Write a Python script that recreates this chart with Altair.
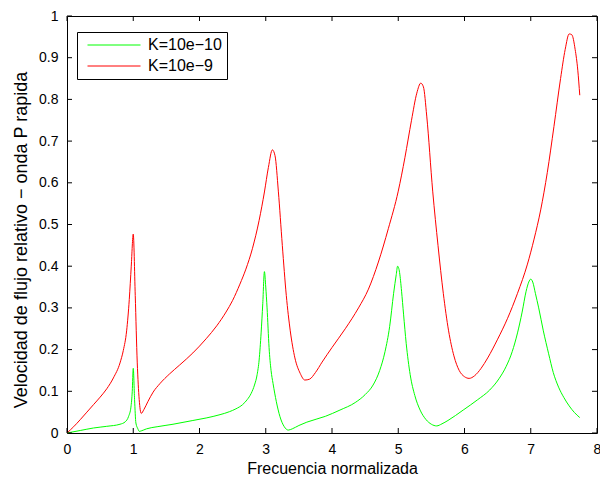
import altair as alt
import pandas as pd

# Relative flow velocity (fast P wave) versus normalized frequency
label_green = "K=10e−10"
label_red = "K=10e−9"
x_title = "Frecuencia normalizada"
y_title = "Velocidad de flujo relativo − onda P rapida"

red_f = [0.00, 0.10, 0.20, 0.30, 0.40, 0.50, 0.60, 0.70, 0.80, 0.85, 0.90, 0.94,
         0.97, 1.00, 1.03, 1.06, 1.09, 1.12, 1.16, 1.22, 1.30, 1.40, 1.55, 1.70,
         1.90, 2.10, 2.26, 2.40, 2.50, 2.61, 2.70, 2.80, 2.90, 2.98, 3.04, 3.10,
         3.14, 3.19, 3.25, 3.31, 3.37, 3.44, 3.52, 3.59, 3.66, 3.75, 3.85, 4.00,
         4.20, 4.40, 4.55, 4.70, 4.85, 5.00, 5.10, 5.20, 5.28, 5.34, 5.38, 5.43,
         5.52, 5.60, 5.68, 5.76, 5.84, 5.92, 6.00, 6.07, 6.15, 6.25, 6.35, 6.50,
         6.65, 6.80, 6.95, 7.05, 7.15, 7.25, 7.35, 7.45, 7.52, 7.58, 7.62, 7.67,
         7.71, 7.74]
red_v = [0.000, 0.015, 0.032, 0.050, 0.068, 0.086, 0.106, 0.132, 0.168, 0.198, 0.245, 0.320,
         0.400, 0.477, 0.330, 0.170, 0.080, 0.047, 0.056, 0.075, 0.098, 0.118, 0.142, 0.163,
         0.192, 0.226, 0.257, 0.290, 0.318, 0.357, 0.393, 0.443, 0.510, 0.578, 0.637, 0.679,
         0.665, 0.580, 0.450, 0.330, 0.245, 0.180, 0.143, 0.127, 0.129, 0.145, 0.170, 0.205,
         0.250, 0.300, 0.345, 0.410, 0.490, 0.580, 0.660, 0.750, 0.815, 0.839, 0.830, 0.760,
         0.580, 0.450, 0.335, 0.245, 0.185, 0.150, 0.135, 0.131, 0.137, 0.155, 0.180, 0.225,
         0.275, 0.335, 0.405, 0.465, 0.535, 0.625, 0.735, 0.850, 0.920, 0.957, 0.955, 0.920,
         0.870, 0.810]

green_f = [0.00, 0.20, 0.40, 0.60, 0.80, 0.88, 0.93, 0.965, 0.985, 1.00, 1.02, 1.04,
           1.07, 1.09, 1.12, 1.20, 1.36, 1.60, 1.90, 2.10, 2.31, 2.45, 2.55, 2.65,
           2.72, 2.78, 2.83, 2.87, 2.90, 2.93, 2.955, 2.98, 3.00, 3.02, 3.05, 3.08,
           3.11, 3.16, 3.215, 3.28, 3.34, 3.40, 3.50, 3.62, 3.90, 4.12, 4.35, 4.50,
           4.62, 4.72, 4.80, 4.87, 4.93, 4.97, 4.99, 5.02, 5.05, 5.08, 5.12, 5.18,
           5.25, 5.33, 5.42, 5.50, 5.58, 5.66, 5.75, 5.98, 6.20, 6.38, 6.52, 6.63,
           6.72, 6.80, 6.87, 6.93, 6.97, 7.00, 7.03, 7.07, 7.12, 7.19, 7.27, 7.34,
           7.42, 7.50, 7.58, 7.66, 7.74]
green_v = [0.000, 0.006, 0.012, 0.016, 0.021, 0.027, 0.040, 0.062, 0.100, 0.155, 0.080, 0.024,
           0.010, 0.004, 0.005, 0.010, 0.015, 0.021, 0.030, 0.036, 0.044, 0.051, 0.058, 0.068,
           0.080, 0.095, 0.115, 0.140, 0.175, 0.240, 0.310, 0.387, 0.350, 0.300, 0.205, 0.150,
           0.119, 0.075, 0.039, 0.015, 0.007, 0.010, 0.018, 0.026, 0.040, 0.055, 0.073, 0.092,
           0.115, 0.150, 0.195, 0.255, 0.335, 0.380, 0.400, 0.385, 0.340, 0.285, 0.215, 0.140,
           0.090, 0.055, 0.032, 0.021, 0.017, 0.022, 0.030, 0.055, 0.080, 0.103, 0.130, 0.160,
           0.195, 0.240, 0.290, 0.340, 0.362, 0.369, 0.362, 0.335, 0.300, 0.245, 0.190, 0.145,
           0.110, 0.085, 0.065, 0.049, 0.037]

x_ticks = list(range(0, 9))
y_ticks = [round(0.1 * i, 1) for i in range(0, 11)]

df = pd.concat([
    pd.DataFrame({"f": green_f, "v": green_v, "serie": label_green, "o": range(len(green_f))}),
    pd.DataFrame({"f": red_f, "v": red_v, "serie": label_red, "o": range(len(red_f))}),
])
xt = pd.DataFrame({"f": x_ticks})
yt = pd.DataFrame({"v": y_ticks})
one = pd.DataFrame({"f": [0]})

FONT = "Liberation Sans"
W, H = 530, 417
TICK = 5
x_scale = alt.Scale(domain=[0, 8], nice=False, zero=False)
y_scale = alt.Scale(domain=[0, 1], nice=False, zero=False)

lines = alt.Chart(df).mark_line(strokeWidth=1, interpolate="monotone").encode(
    x=alt.X("f:Q", scale=x_scale, title=x_title, axis=alt.Axis(
        orient="bottom", values=x_ticks, format="d",
        domain=False, ticks=False, labelFlush=False, labelPadding=9, titlePadding=4,
        labelFontSize=14, titleFontSize=16)),
    y=alt.Y("v:Q", scale=y_scale, title=None, axis=alt.Axis(
        orient="left", values=y_ticks, format=".1~f",
        domain=False, ticks=False, labelFlush=False, labelPadding=9, labelFontSize=14)),
    color=alt.Color("serie:N", scale=alt.Scale(domain=[label_green, label_red],
                                               range=["#00ff00", "#ff0000"]),
                    legend=alt.Legend(title=None, orient="none", legendX=10, legendY=16,
                                      symbolType="stroke", symbolSize=2809,
                                      symbolStrokeWidth=1, clipHeight=16,
                                      labelFontSize=16, labelFont=FONT, labelColor="black",
                                      labelOffset=7, padding=5, rowPadding=5,
                                      symbolOffset=5,
                                      strokeColor="black", fillColor="white", cornerRadius=0)),
    order="o:Q",
)

# Inward tick marks on all four sides of the frame (sharing the axes above)
rule = dict(color="black", strokeWidth=1)
xt_enc = alt.X("f:Q", scale=x_scale, title=x_title)
yt_enc = alt.Y("v:Q", scale=y_scale, title=None)
tick_bottom = alt.Chart(xt).mark_rule(**rule).encode(
    x=xt_enc, y=alt.value(H), y2=alt.value(H - TICK))
tick_top = alt.Chart(xt).mark_rule(**rule).encode(
    x=xt_enc, y=alt.value(0), y2=alt.value(TICK))
tick_left = alt.Chart(yt).mark_rule(**rule).encode(
    y=yt_enc, x=alt.value(0), x2=alt.value(TICK))
tick_right = alt.Chart(yt).mark_rule(**rule).encode(
    y=yt_enc, x=alt.value(W), x2=alt.value(W - TICK))

# Rotated y-axis title
ylabel = alt.Chart(one).mark_text(
    angle=270, align="center", baseline="alphabetic", font=FONT, fontSize=18,
    color="black").encode(
    x=alt.value(-39.7), y=alt.value(224), text=alt.value(y_title))

chart = alt.layer(lines, tick_bottom, tick_top, tick_left, tick_right, ylabel).properties(
    width=W, height=H,
    autosize=alt.AutoSizeParams(type="none"),
    padding={"left": 67, "top": 16, "right": 3, "bottom": 45},
).configure_view(
    stroke="black", strokeWidth=1
).configure_axis(
    grid=False, labelFont=FONT, titleFont=FONT, labelColor="black", titleColor="black",
    titleFontWeight="normal"
)

chart.save("out.html", embed_options={"renderer": "svg", "actions": False})
